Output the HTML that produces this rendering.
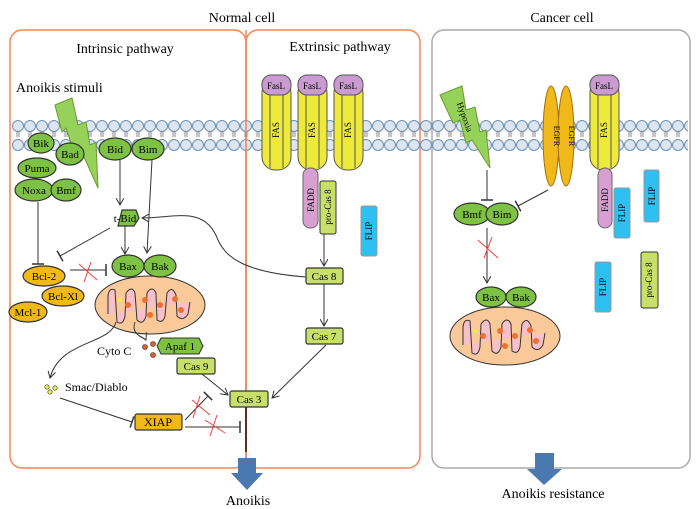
<!DOCTYPE html>
<html><head><meta charset="utf-8"><style>
html,body{margin:0;padding:0;background:#fff;}
svg{display:block;font-family:"Liberation Serif",serif;}
</style></head><body>
<svg width="700" height="509" viewBox="0 0 700 509" xmlns="http://www.w3.org/2000/svg">
<defs>
<pattern id="mem" x="12" y="0" width="12" height="160" patternUnits="userSpaceOnUse">
<line x1="5" y1="130" x2="5" y2="137" stroke="#888" stroke-width="1"/>
<line x1="7" y1="130" x2="7" y2="137" stroke="#888" stroke-width="1"/>
<circle cx="6" cy="126" r="5.5" fill="#dde6f0" stroke="#6d8fb5" stroke-width="1"/>
<circle cx="6" cy="145" r="5.5" fill="#dde6f0" stroke="#6d8fb5" stroke-width="1"/>
</pattern>
<marker id="ar" markerWidth="8" markerHeight="8" refX="7" refY="4" orient="auto"><path d="M0,0 L7,4 L0,8" fill="none" stroke="#333" stroke-width="1"/></marker>
<marker id="tb" markerWidth="4" markerHeight="12" refX="2" refY="6" orient="auto"><line x1="2" y1="0" x2="2" y2="12" stroke="#333" stroke-width="1.5"/></marker>
<g id="mito">
<ellipse cx="150" cy="305" rx="55" ry="29" fill="#f9c99a" stroke="#333"/>
<path d="M108,314 L108,296 Q109,287 115,290 L117,322 Q123,326 125,316 L126,293 Q132,285 135,293 L137,320 Q143,326 146,316 L147,293 Q152,285 156,293 L157,320 Q163,324 165,316 L167,293 Q172,285 176,295 L177,316 Q183,322 188,314 L190,302" fill="#f8c0c8" stroke="#333"/>
<circle cx="128" cy="305" r="3" fill="#f07030"/><circle cx="145" cy="300" r="3" fill="#f07030"/><circle cx="160" cy="305" r="3" fill="#f07030"/><circle cx="175" cy="299" r="3" fill="#f07030"/><circle cx="181" cy="310" r="3" fill="#f07030"/><circle cx="150" cy="315" r="3" fill="#f07030"/><circle cx="120" cy="300" r="2" fill="#ee4"/>
</g>
</defs>
<!-- titles -->
<text x="242" y="22" font-size="14" text-anchor="middle">Normal cell</text>
<text x="562" y="22" font-size="14" text-anchor="middle">Cancer cell</text>
<!-- boxes -->
<rect x="10" y="30" width="236" height="438" rx="12" fill="none" stroke="#f4845a" stroke-width="1.5"/>
<rect x="246" y="30" width="174" height="438" rx="12" fill="none" stroke="#f4845a" stroke-width="1.5"/>
<rect x="432" y="30" width="258" height="438" rx="12" fill="none" stroke="#aaa" stroke-width="1.5"/>
<text x="125" y="53" font-size="14" text-anchor="middle">Intrinsic pathway</text>
<text x="340" y="51" font-size="14" text-anchor="middle">Extrinsic pathway</text>
<text x="16" y="92" font-size="14">Anoikis stimuli</text>
<!-- membrane -->
<rect x="12" y="118" width="676" height="36" fill="url(#mem)"/>
<line x1="246" y1="30" x2="246" y2="468" stroke="#f4845a" stroke-width="1.5"/>
<!-- lightning left -->
<polygon points="55,105 72,98 78,125 86,122 90,145 96,142 98,188 80,148 74,152 66,128 62,132" fill="#96d25a" stroke="#6a9a30"/>
<!-- lightning cancer -->
<polygon points="440,95 462,86 466,110 475,107 480,132 486,130 490,168 472,140 466,143 460,120 453,123" fill="#96d25a" stroke="#6a9a30"/>
<text transform="translate(462,118) rotate(70)" font-size="9" text-anchor="middle">Hypoxia</text>
<!-- FAS receptors -->
<g stroke="#555" stroke-width="1">
<g id="fas">
<rect x="262" y="80" width="29" height="90" rx="13" fill="#eeea3a"/>
<line x1="270" y1="90" x2="270" y2="168"/><line x1="283" y1="90" x2="283" y2="168"/>
<rect x="262" y="75" width="29" height="20" rx="9" fill="#c99bd0"/>
</g>
<use href="#fas" x="36"/><use href="#fas" x="72"/><use href="#fas" x="328"/>
</g>
<g font-size="9" text-anchor="middle">
<text x="276" y="89">FasL</text><text x="312" y="89">FasL</text><text x="348" y="89">FasL</text><text x="604" y="89">FasL</text>
<text transform="translate(279,130) rotate(-90)">FAS</text>
<text transform="translate(315,130) rotate(-90)">FAS</text>
<text transform="translate(351,130) rotate(-90)">FAS</text>
<text transform="translate(607,130) rotate(-90)">FAS</text>
</g>
<!-- FADD etc normal -->
<rect x="303" y="168" width="15" height="60" rx="7" fill="#d7a0d0" stroke="#666"/>
<text transform="translate(314,200) rotate(-90)" font-size="9" text-anchor="middle">FADD</text>
<rect x="320" y="181" width="16" height="53" rx="2" fill="#c8e06a" stroke="#333"/>
<text transform="translate(331,207) rotate(-90)" font-size="9" text-anchor="middle">pro-Cas 8</text>
<rect x="361" y="206" width="16" height="50" rx="2" fill="#2ec0f0" stroke="#999"/>
<text transform="translate(372,231) rotate(-90)" font-size="9" text-anchor="middle">FLIP</text>
<!-- cancer FADD/FLIP -->
<rect x="598" y="168" width="14" height="60" rx="7" fill="#d7a0d0" stroke="#666"/>
<text transform="translate(608,200) rotate(-90)" font-size="9" text-anchor="middle">FADD</text>
<rect x="614" y="188" width="16" height="50" rx="2" fill="#2ec0f0" stroke="#999"/>
<text transform="translate(625,213) rotate(-90)" font-size="9" text-anchor="middle">FLIP</text>
<rect x="644" y="170" width="15" height="52" rx="2" fill="#2ec0f0" stroke="#999"/>
<text transform="translate(655,196) rotate(-90)" font-size="9" text-anchor="middle">FLIP</text>
<rect x="595" y="262" width="16" height="50" rx="2" fill="#2ec0f0" stroke="#999"/>
<text transform="translate(606,287) rotate(-90)" font-size="9" text-anchor="middle">FLIP</text>
<rect x="641" y="252" width="17" height="56" rx="2" fill="#c8e06a" stroke="#333"/>
<text transform="translate(652,280) rotate(-90)" font-size="9" text-anchor="middle">pro-Cas 8</text>
<!-- EGFR -->
<ellipse cx="551" cy="136" rx="8" ry="50" fill="#f0b818" stroke="#a07010"/>
<ellipse cx="566" cy="136" rx="8" ry="50" fill="#f0b818" stroke="#a07010"/>
<text transform="translate(554,136) rotate(90)" font-size="8" text-anchor="middle">EGFR</text>
<text transform="translate(569,136) rotate(90)" font-size="8" text-anchor="middle">EGFR</text>
<!-- mitochondria -->
<use href="#mito"/>
<use href="#mito" x="355" y="31"/>
<!-- green ellipses -->
<g fill="#7dc243" stroke="#333" stroke-width="1.2">
<ellipse cx="41" cy="143" rx="13" ry="10"/><ellipse cx="70" cy="154" rx="14" ry="11"/>
<ellipse cx="37" cy="168" rx="19" ry="10"/><ellipse cx="34" cy="190" rx="19" ry="11"/>
<ellipse cx="66" cy="190" rx="15" ry="11"/><ellipse cx="115" cy="149" rx="16" ry="11"/>
<ellipse cx="148" cy="149" rx="16" ry="11"/>
<path d="M118,226 L122,210 L136,210 L139,218 L134,226 Z"/>
<ellipse cx="128" cy="266" rx="16" ry="11"/><ellipse cx="160" cy="266" rx="16" ry="11"/>
<ellipse cx="472" cy="214" rx="18" ry="11"/><ellipse cx="502" cy="214" rx="16" ry="11"/>
<ellipse cx="491" cy="297" rx="15" ry="10"/><ellipse cx="521" cy="297" rx="15" ry="10"/>
</g>
<g font-size="11" text-anchor="middle">
<text x="41" y="147">Bik</text><text x="70" y="158">Bad</text><text x="37" y="172">Puma</text>
<text x="34" y="194">Noxa</text><text x="66" y="194">Bmf</text><text x="115" y="153">Bid</text>
<text x="148" y="153">Bim</text><text x="125" y="222">t-Bid</text>
<text x="128" y="270">Bax</text><text x="160" y="270">Bak</text>
<text x="472" y="218">Bmf</text><text x="502" y="218">Bim</text>
<text x="491" y="301">Bax</text><text x="521" y="301">Bak</text>
</g>
<!-- orange Bcl -->
<g fill="#f0b818" stroke="#333" stroke-width="1.2">
<ellipse cx="44" cy="276" rx="21" ry="10"/><ellipse cx="63" cy="296" rx="21" ry="10"/><ellipse cx="28" cy="312" rx="19" ry="10"/>
<rect x="135" y="414" width="47" height="16" rx="2"/>
</g>
<g font-size="11" text-anchor="middle">
<text x="44" y="280">Bcl-2</text><text x="63" y="300">Bcl-Xl</text><text x="28" y="316">Mcl-1</text>
<text x="158" y="426" font-size="12">XIAP</text>
</g>
<!-- caspases -->
<g fill="#c8e06a" stroke="#333" stroke-width="1.2">
<rect x="306" y="268" width="37" height="16" rx="2"/><rect x="306" y="328" width="37" height="16" rx="2"/>
<rect x="230" y="391" width="38" height="16" rx="2"/><rect x="177" y="358" width="38" height="16" rx="2"/>
</g>
<polygon points="161,338 199,338 203,346 199,354 161,354 157,346" fill="#7dc243" stroke="#333"/>
<g font-size="11" text-anchor="middle">
<text x="324" y="280">Cas 8</text><text x="324" y="340">Cas 7</text><text x="249" y="403">Cas 3</text>
<text x="196" y="370">Cas 9</text><text x="180" y="350">Apaf 1</text>
</g>
<text x="97" y="355" font-size="12">Cyto C</text>
<text x="65" y="391" font-size="12">Smac/Diablo</text>
<g fill="#e06020" stroke="#333" stroke-width="0.6"><circle cx="145" cy="347" r="2.5"/><circle cx="153" cy="344" r="2.5"/><circle cx="153" cy="355" r="2.5"/></g>
<g fill="#ee4" stroke="#333" stroke-width="0.6"><circle cx="47" cy="387" r="2.2"/><circle cx="50" cy="392" r="2.2"/><circle cx="55" cy="388" r="2.2"/></g>
<!-- connectors -->
<g fill="none" stroke="#333" stroke-width="1">
<line x1="120" y1="160" x2="120" y2="205" marker-end="url(#ar)"/>
<line x1="152" y1="160" x2="147" y2="253" marker-end="url(#ar)"/>
<line x1="125" y1="226" x2="125" y2="254" marker-end="url(#ar)"/>
<line x1="110" y1="228" x2="60" y2="256" marker-end="url(#tb)"/>
<line x1="38" y1="202" x2="38" y2="264" marker-end="url(#tb)"/>
<line x1="70" y1="270" x2="106" y2="270" marker-end="url(#tb)"/>
<path d="M306,277 C240,272 225,255 218,240 C205,205 175,218 142,218" marker-end="url(#ar)"/>
<line x1="324" y1="234" x2="324" y2="266" marker-end="url(#ar)"/>
<line x1="324" y1="284" x2="324" y2="326" marker-end="url(#ar)"/>
<line x1="326" y1="345" x2="272" y2="398" marker-end="url(#ar)"/>
<line x1="202" y1="374" x2="228" y2="395" marker-end="url(#ar)"/>
<path d="M135,322 C130,335 145,338 146,340" marker-end="url(#ar)"/>
<path d="M116,322 C110,345 60,340 50,378" marker-end="url(#ar)"/>
<line x1="60" y1="398" x2="132" y2="422" marker-end="url(#tb)"/>
<line x1="185" y1="420" x2="208" y2="396" marker-end="url(#tb)"/>
<line x1="185" y1="427" x2="240" y2="427" marker-end="url(#tb)"/>
<line x1="487" y1="170" x2="487" y2="200" marker-end="url(#tb)"/>
<line x1="548" y1="190" x2="518" y2="206" marker-end="url(#tb)"/>
<line x1="487" y1="228" x2="487" y2="283" marker-end="url(#ar)"/>
</g>
<line x1="246" y1="407" x2="246" y2="452" stroke="#5a3020" stroke-width="2"/>
<!-- red crosses -->
<g stroke="#f04040" stroke-width="1">
<line x1="79" y1="264" x2="97" y2="280"/><line x1="91" y1="262" x2="84" y2="282"/>
<line x1="192" y1="400" x2="210" y2="415"/><line x1="200" y1="396" x2="193" y2="418"/>
<line x1="205" y1="420" x2="225" y2="433"/><line x1="217" y1="415" x2="210" y2="436"/>
<line x1="478" y1="240" x2="498" y2="258"/><line x1="492" y1="237" x2="484" y2="258"/>
</g>
<!-- big arrows -->
<polygon points="238,458 256,458 256,473 263,473 247,490 231,473 238,473" fill="#4a78b0"/>
<polygon points="535,453 554,453 554,469 562,469 544,485 527,469 535,469" fill="#4a78b0"/>
<text x="248" y="505" font-size="14" text-anchor="middle">Anoikis</text>
<text x="553" y="498" font-size="14" text-anchor="middle">Anoikis resistance</text>
</svg>
</body></html>
